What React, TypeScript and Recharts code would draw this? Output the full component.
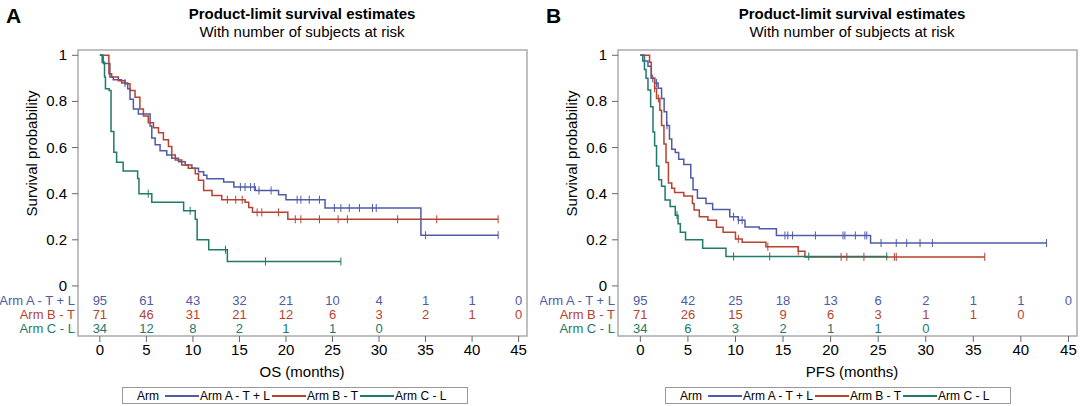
import React from "react";
import { ComposedChart, Line, Scatter, XAxis, YAxis, ReferenceArea } from "recharts";

const COLORS = ["#4E5BA6", "#B5432F", "#1E7A69"];
const ARM_NAMES = ["Arm A - T + L", "Arm B - T", "Arm C - L"];
const X_TICKS = [0, 5, 10, 15, 20, 25, 30, 35, 40, 45];
const Y_TICKS = [0, 0.2, 0.4, 0.6, 0.8, 1];
const RISK_ROWS = [-0.061, -0.122, -0.183];

// OS curves: [time, survival]
const osA: number[][] = [[0,1],[0.36,0.965],[1.08,0.906],[1.44,0.894],[2.34,0.88],[2.99,0.855],[3.24,0.81],[3.6,0.767],[4.14,0.745],[5.4,0.693],[5.58,0.642],[5.94,0.612],[6.47,0.586],[7.19,0.568],[7.73,0.554],[8.45,0.539],[9.17,0.524],[9.89,0.51],[10.6,0.495],[11.15,0.48],[11.5,0.465],[13.3,0.451],[14.4,0.429],[16.7,0.414],[19.2,0.395],[20,0.374],[24.2,0.338],[34.5,0.22],[42.8,0.22]];
const osB: number[][] = [[0,1],[0.97,0.92],[1.26,0.906],[1.98,0.89],[2.7,0.877],[3.24,0.847],[3.78,0.818],[4.3,0.767],[4.68,0.737],[5.2,0.708],[5.76,0.686],[6.3,0.664],[6.83,0.634],[7.37,0.605],[7.73,0.568],[8.1,0.546],[8.8,0.524],[9.5,0.51],[10.25,0.487],[10.6,0.458],[11.15,0.414],[12.05,0.392],[13.1,0.374],[15.6,0.363],[16,0.34],[16.4,0.319],[20.2,0.289],[42.8,0.289]];
const osC: number[][] = [[0,1],[0.25,0.97],[0.5,0.906],[0.6,0.855],[1.0,0.847],[1.2,0.67],[1.5,0.58],[1.8,0.536],[2.5,0.498],[4.06,0.466],[4.2,0.4],[5.58,0.363],[9,0.326],[10.25,0.289],[10.45,0.2],[11.7,0.157],[13.7,0.106],[25.9,0.106]];
const osCensA = [2.7,15.1,15.6,16.2,16.6,17.1,18.4,21.2,21.6,22.5,23.6,25.2,25.9,26.8,27.9,29.3,29.7,35.0,42.8];
const osCensB = [13.7,14.6,15.3,16.9,17.4,19.2,21.0,21.6,23.6,25.6,26.6,32.0,36.2,42.8];
const osCensC = [5.2,9.7,13.5,17.8,25.9];

// PFS curves
const pfsA: number[][] = [[0,1],[0.43,0.975],[0.8,0.953],[1.15,0.9],[1.5,0.88],[1.87,0.857],[2.23,0.813],[2.5,0.755],[2.77,0.696],[3.06,0.637],[3.3,0.593],[3.67,0.579],[4.03,0.549],[4.57,0.527],[5.3,0.468],[5.54,0.417],[6,0.38],[6.9,0.358],[7.6,0.332],[9.4,0.3],[10.3,0.285],[11,0.256],[12.5,0.248],[14.3,0.219],[24.2,0.186],[42.7,0.186]];
const pfsB: number[][] = [[0,1],[0.97,0.97],[1.15,0.9],[1.5,0.857],[1.7,0.813],[2.05,0.762],[2.23,0.696],[2.48,0.615],[2.7,0.535],[2.95,0.446],[3.3,0.424],[3.6,0.405],[4.57,0.39],[5.47,0.358],[5.65,0.329],[6.2,0.3],[7.1,0.285],[8,0.255],[8.7,0.233],[10,0.204],[10.7,0.19],[13.2,0.17],[16.6,0.15],[17.3,0.126],[36.2,0.126]];
const pfsC: number[][] = [[0,1],[0.25,0.975],[0.43,0.938],[0.6,0.9],[0.8,0.85],[1.08,0.777],[1.33,0.667],[1.5,0.608],[1.7,0.52],[1.94,0.46],[2.23,0.432],[2.6,0.373],[3.13,0.344],[3.67,0.307],[3.96,0.27],[4.2,0.233],[4.75,0.2],[6.55,0.163],[9,0.128],[26,0.128]];
const pfsCensA = [1.3,1.7,2.8,9.8,10.3,10.7,15.2,15.5,16.0,18.4,21.3,21.5,22.6,23.6,23.8,25.3,26.9,28.0,29.4,30.7,42.7];
const pfsCensB = [1.5,1.9,10.3,13.4,16.6,21.1,21.7,23.5,26.7,26.9,36.2];
const pfsCensC = [3.85,9.8,13.6,17.7,25.9];

const osRisk = [[95,61,43,32,21,10,4,1,1,0],[71,46,31,21,12,6,3,2,1,0],[34,12,8,2,1,1,0]];
const pfsRisk = [[95,42,25,18,13,6,2,1,1,0],[71,26,15,9,6,3,1,1,0],[34,6,3,2,1,1,0]];

function buildCurve(pts: number[][], cens: number[]) {
  const rows = pts.map(([t, s]) => ({ t, s, c: 0 }));
  cens.forEach((ct) => {
    let s = 1;
    for (const [t, v] of pts) if (t <= ct) s = v;
    rows.push({ t: ct, s, c: 1 });
  });
  rows.sort((a, b) => a.t - b.t || a.c - b.c);
  return rows;
}

const CensorDot = (color: string) => (p: any) => {
  if (!p.payload || !p.payload.c) return <g key={p.index} />;
  return <line key={p.index} x1={p.cx} x2={p.cx} y1={p.cy - 4} y2={p.cy + 4} stroke={color} strokeWidth={1} />;
};

const YTick = (p: any) => {
  const v = p.payload.value;
  const ri = RISK_ROWS.findIndex((r) => Math.abs(r - v) < 0.001);
  if (ri >= 0) {
    return <text x={p.x - 3} y={p.y} dy={5} textAnchor="end" fontSize={13} fill={COLORS[ri]}>{ARM_NAMES[ri]}</text>;
  }
  return (
    <g>
      <line x1={p.x - 6} x2={p.x} y1={p.y} y2={p.y} stroke="#666" />
      <text x={p.x - 11} y={p.y} dy={5} textAnchor="end" fontSize={15} fill="#000">{String(v)}</text>
    </g>
  );
};

function Panel({ curves, cens, risk, mr }: { curves: number[][][]; cens: number[][]; risk: number[][]; mr: number }) {
  return (
    <ComposedChart width={540} height={406} margin={{ top: 50, right: mr, bottom: 34, left: 0 }}>
      <XAxis type="number" dataKey="t" domain={[-2.35, 45.9]} ticks={X_TICKS} axisLine={false} tickSize={6} tickLine={{ stroke: "#666" }} tick={{ fontSize: 15, fill: "#000" }} height={36} allowDataOverflow />
      <YAxis type="number" domain={[-0.217, 1.023]} ticks={[...RISK_ROWS, ...Y_TICKS]} width={78} axisLine={false} tickLine={false} tickSize={0} tickMargin={0} tick={<YTick />} allowDataOverflow interval={0} />
      <ReferenceArea x1={-2.35} x2={45.9} y1={-0.217} y2={1.023} fill="none" stroke="#aaa" strokeWidth={1.5} ifOverflow="visible" />
      {curves.map((c, i) => (
        <Line key={"l" + i} data={buildCurve(c, cens[i])} dataKey="s" type="stepAfter" stroke={COLORS[i]} strokeWidth={1.5} dot={CensorDot(COLORS[i])} activeDot={false} isAnimationActive={false} />
      ))}
      {risk.map((row, i) => (
        <Scatter key={"r" + i} data={row.map((n, k) => ({ t: X_TICKS[k], y: RISK_ROWS[i], n }))} dataKey="y" isAnimationActive={false}
          shape={(p: any) => <text x={p.cx} y={p.cy} dy={5} textAnchor="middle" fontSize={13} fill={COLORS[i]}>{p.payload.n}</text>} />
      ))}
    </ComposedChart>
  );
}

function Legend({ left }: { left: number }) {
  return (
    <div style={{ position: "absolute", left, top: 387, width: 346, height: 17, border: "1px solid #999", display: "flex", alignItems: "center", fontSize: 12, boxSizing: "border-box", paddingLeft: 14, whiteSpace: "nowrap" }}>
      <span style={{ marginRight: 6 }}>Arm</span>
      {ARM_NAMES.map((n, i) => (
        <span key={i} style={{ display: "flex", alignItems: "center", marginRight: 2, whiteSpace: "nowrap" }}>
          <svg width={34} height={4} style={{ marginRight: 1 }}><line x1={0} x2={34} y1={2} y2={2} stroke={COLORS[i]} strokeWidth={2} /></svg>
          <span style={{ whiteSpace: "nowrap" }}>{n}</span>
        </span>
      ))}
    </div>
  );
}

function Headers({ left, letter, cx, xlabel }: { left: number; letter: string; cx: number; xlabel: string }) {
  return (
    <>
      <div style={{ position: "absolute", left: left + 6, top: 4, fontSize: 21, fontWeight: "bold" }}>{letter}</div>
      <div style={{ position: "absolute", left: left + cx - 200, width: 400, top: 5, textAlign: "center", fontSize: 15, fontWeight: "bold" }}>Product-limit survival estimates</div>
      <div style={{ position: "absolute", left: left + cx - 200, width: 400, top: 23, textAlign: "center", fontSize: 15 }}>With number of subjects at risk</div>
      <div style={{ position: "absolute", left: left + cx - 100, width: 200, top: 363, textAlign: "center", fontSize: 15 }}>{xlabel}</div>
      <div style={{ position: "absolute", left: left + 31 - 100, width: 200, top: 145, textAlign: "center", fontSize: 15, transform: "rotate(-90deg)" }}>Survival probability</div>
    </>
  );
}

export default function App() {
  return (
    <div style={{ position: "absolute", left: 0, top: 0, width: 1080, height: 406, background: "#fff", fontFamily: "'Liberation Sans', Arial, sans-serif", overflow: "hidden" }}>
      <div style={{ position: "absolute", left: 0, top: 0 }}>
        <Panel curves={[osA, osB, osC]} cens={[osCensA, osCensB, osCensC]} risk={osRisk} mr={13} />
      </div>
      <div style={{ position: "absolute", left: 540, top: 0 }}>
        <Panel curves={[pfsA, pfsB, pfsC]} cens={[pfsCensA, pfsCensB, pfsCensC]} risk={pfsRisk} mr={3} />
      </div>
      <Headers left={0} letter="A" cx={302} xlabel="OS (months)" />
      <Headers left={540} letter="B" cx={312} xlabel="PFS (months)" />
      <Legend left={122} />
      <Legend left={665} />
    </div>
  );
}
